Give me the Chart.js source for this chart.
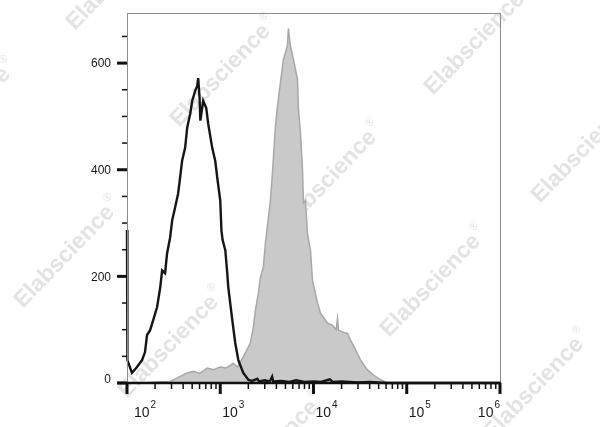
<!DOCTYPE html>
<html>
<head>
<meta charset="utf-8">
<script src="https://cdn.jsdelivr.net/npm/chart.js@4.4.1/dist/chart.umd.min.js"></script>
<style>
  html, body { margin:0; padding:0; background:#fff; }
  #wrap { position:relative; width:600px; height:427px; }
</style>
</head>
<body>
<div id="wrap"><canvas id="chart"></canvas></div>
<script>
// isotype control (black outline)
const blackX = [100, 101, 113, 128, 145, 156, 164, 177, 191, 210, 227, 238, 256, 269, 290, 305, 328, 353, 371, 390,
  420, 442, 476, 500, 538, 566, 580, 600, 612, 656, 707, 743, 820, 883, 929, 1000, 1030, 1060, 1133, 1189,
  1219, 1346, 1449, 1563, 1766, 2000, 2200, 2500, 2600, 3000, 3400, 3600, 3700, 4500, 5500, 6500, 8000,
  10000, 12000, 15000, 16000, 20000, 30000, 40000, 60000, 1000000];
const blackY = [287, 43, 19, 30, 43, 58, 90, 99, 118, 142, 179, 211, 206, 243, 273, 305, 329, 355, 385, 417,
  441, 479, 505, 529, 548, 557, 572, 535, 492, 529, 516, 486, 441, 417, 385, 342, 286, 268, 249, 206,
  180, 118, 75, 43, 19, 6, 4, 8, 3, 5, 3, 12, 3, 4, 2, 5, 2,
  3, 2, 7, 2, 3, 1, 2, 0, 0];

// stained sample (grey filled)
const greyX = [100, 150, 200, 290, 350, 442, 520, 600, 725, 850, 1000, 1150, 1380, 1525, 1766, 2102, 2264, 2378,
  2563, 2692, 2900, 3047, 3282, 3449, 3623, 3903, 4100, 4416, 4757, 5248, 5378, 5656, 6094, 6730, 6900,
  7248, 7615, 7806, 8199, 8613, 9284, 9755, 11037, 11890, 14150, 16000, 17500, 18100, 18560, 21030,
  23230, 25020, 28300, 32010, 38080, 44150, 52500, 62500, 1000000];
const greyY = [0, 0, 2, 3, 10, 19, 22, 18, 28, 25, 30, 28, 37, 30, 49, 75, 105, 136,
  168, 198, 217, 262, 310, 342, 393, 480, 518, 563, 607, 632, 665, 632, 607, 570, 514,
  469, 402, 338, 342, 280, 249, 193, 150, 131, 112, 108, 100, 121, 99, 95,
  93, 80, 62, 43, 24, 15, 6, 0, 0];

const yMajor = [0, 200, 400, 600];
const yMinor = [50, 100, 150, 250, 300, 350, 450, 500, 550, 650];
const xDecades = [2, 3, 4, 5, 6];

const WATERMARKS = [
  [120, -25], [224, 72], [330, 178], [434, 282], [537, 385],
  [-36, 115], [68, 253], [172, 343], [272, 448],
  [478, 40], [585, 148]
];

const pts = (xs, ys) => xs.map((x, i) => ({ x, y: ys[i] }));

const decor = {
  id: 'decor',
  beforeDraw(chart) {
    const ctx = chart.ctx;
    ctx.save();
    ctx.fillStyle = '#fff';
    ctx.fillRect(0, 0, chart.width, chart.height);
    ctx.fillStyle = '#e3e3e3';
    ctx.textBaseline = 'middle';
    WATERMARKS.forEach(([cx, cy]) => {
      ctx.save();
      ctx.translate(cx, cy);
      ctx.rotate(-46 * Math.PI / 180);
      ctx.font = 'bold 23px "Liberation Sans", Arial, sans-serif';
      const w = ctx.measureText('Elabscience').width;
      ctx.textAlign = 'left';
      ctx.fillText('Elabscience', -w / 2 - 5, 0);
      ctx.font = '11px "Liberation Sans", Arial, sans-serif';
      ctx.fillText('®', w / 2 - 3, -10);
      ctx.restore();
    });
    ctx.restore();
  },
  afterDraw(chart) {
    const ctx = chart.ctx;
    const a = chart.chartArea;
    const xs = chart.scales.x, ys = chart.scales.y;
    ctx.save();
    // frame
    ctx.strokeStyle = '#8c8c8c';
    ctx.lineWidth = 1;
    ctx.strokeRect(a.left + 0.5, a.top + 0.5, a.right - a.left, a.bottom - a.top);
    // bottom axis
    ctx.strokeStyle = '#111';
    ctx.lineWidth = 2.5;
    ctx.beginPath();
    ctx.moveTo(a.left - 10, a.bottom);
    ctx.lineTo(a.right + 1, a.bottom);
    ctx.stroke();

    // y ticks
    ctx.lineWidth = 3;
    yMajor.forEach(v => {
      const p = ys.getPixelForValue(v);
      ctx.beginPath(); ctx.moveTo(a.left - 10, p); ctx.lineTo(a.left, p); ctx.stroke();
    });
    ctx.lineWidth = 1.5;
    yMinor.forEach(v => {
      const p = ys.getPixelForValue(v);
      ctx.beginPath(); ctx.moveTo(a.left - 5, p); ctx.lineTo(a.left, p); ctx.stroke();
    });

    // x ticks
    xDecades.forEach((e, i) => {
      const p = xs.getPixelForValue(Math.pow(10, e));
      ctx.lineWidth = 3;
      ctx.beginPath(); ctx.moveTo(p, a.bottom); ctx.lineTo(p, a.bottom + 11); ctx.stroke();
      if (i < xDecades.length - 1) {
        ctx.lineWidth = 1.5;
        for (let m = 2; m <= 9; m++) {
          const q = xs.getPixelForValue(m * Math.pow(10, e));
          ctx.beginPath(); ctx.moveTo(q, a.bottom); ctx.lineTo(q, a.bottom + 6); ctx.stroke();
        }
      }
    });

    // y labels
    ctx.fillStyle = '#1a1a1a';
    ctx.font = '12px "Liberation Sans", Arial, sans-serif';
    ctx.textAlign = 'right';
    ctx.textBaseline = 'middle';
    yMajor.forEach(v => {
      const p = ys.getPixelForValue(v);
      ctx.fillText(String(v), a.left - 16, v === 0 ? p - 3 : p + 1);
    });

    // x labels 10^n
    ctx.textAlign = 'left';
    ctx.textBaseline = 'alphabetic';
    xDecades.forEach(e => {
      const p = xs.getPixelForValue(Math.pow(10, e));
      ctx.font = '14px "Liberation Sans", Arial, sans-serif';
      const w10 = ctx.measureText('10').width;
      ctx.font = '10px "Liberation Sans", Arial, sans-serif';
      const we = ctx.measureText(String(e)).width;
      const w = w10 + we + 1;
      let left = Math.max(p + 2, a.left + 7);
      left = Math.min(left, a.right - w);
      ctx.font = '14px "Liberation Sans", Arial, sans-serif';
      ctx.fillText('10', left, 417);
      ctx.font = '10px "Liberation Sans", Arial, sans-serif';
      ctx.fillText(String(e), left + w10 + 1, 408);
    });
    ctx.restore();
  }
};

new Chart(document.getElementById('chart'), {
  type: 'line',
  data: {
    datasets: [
      { label: 'Isotype', data: pts(blackX, blackY), borderColor: '#151515', borderWidth: 2.4,
        pointRadius: 0, fill: false, tension: 0, order: 0, clip: false },
      { label: 'Stained', data: pts(greyX, greyY), borderColor: '#a8a8a8', backgroundColor: '#c9c9c9',
        borderWidth: 1.5, pointRadius: 0, fill: 'origin', tension: 0, order: 1 }
    ]
  },
  options: {
    responsive: true,
    maintainAspectRatio: false,
    animation: false,
    layout: { padding: { left: 127, right: 100, top: 13, bottom: 44 } },
    scales: {
      x: { type: 'logarithmic', min: 100, max: 1000000, display: false },
      y: { min: 0, max: 694, display: false }
    },
    plugins: { legend: { display: false }, tooltip: { enabled: false } }
  },
  plugins: [decor]
});
</script>
</body>
</html>
